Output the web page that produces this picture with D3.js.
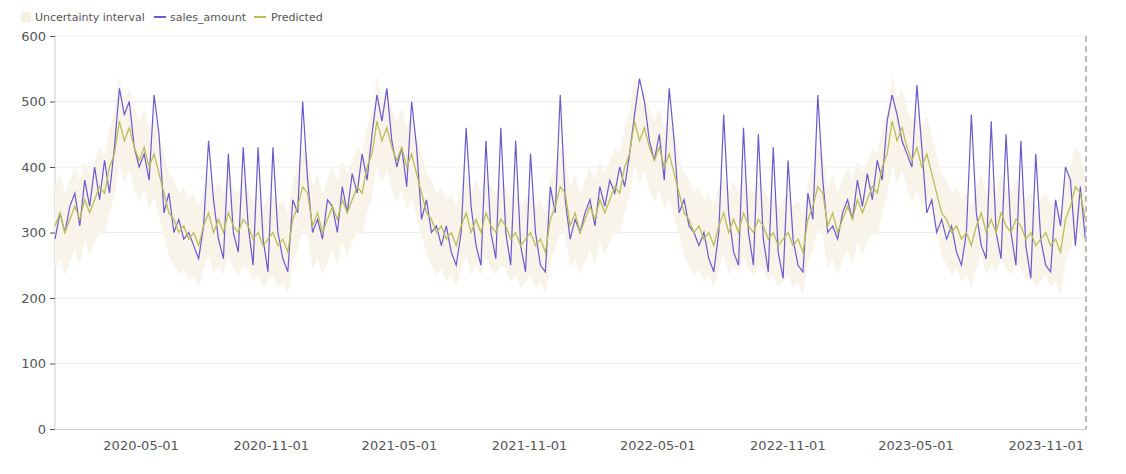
<!DOCTYPE html>
<html><head><meta charset="utf-8">
<script src="https://cdn.jsdelivr.net/npm/d3@7/dist/d3.min.js"></script>
<style>body{margin:0;background:#fff;font-family:"DejaVu Sans",sans-serif}</style>
</head><body><svg id="c" width="1126" height="474"></svg>
<script>
const startDate = "2020-01-01";
const xTicks = ["2020-05-01","2020-11-01","2021-05-01","2021-11-01","2022-05-01","2022-11-01","2023-05-01","2023-11-01"];
const yTicks = [0,100,200,300,400,500,600];
const actual2020 = [290,330,300,340,360,310,380,340,400,350,410,360,430,520,480,500,430,400,420,380,510,450,330,360,300,320,290,300,280,260,310,440,350,290,260,420,300,270,430,310,250,430,290,240,430,300,260,240,350,330,500,380];
const actual2021 = [300,320,290,350,340,300,370,330,390,360,420,380,450,510,470,520,440,400,430,370,500,430,320,350,300,310,280,310,270,250,300,460,340,280,250,440,300,260,460,300,250,440,280,240,420,300,250,240,370,330,510,350];
const actual2022 = [290,320,300,330,350,310,370,340,380,360,400,370,420,480,535,500,440,410,450,380,520,440,330,350,310,300,280,300,260,240,300,480,330,270,250,460,300,250,450,290,240,430,270,230,410,290,250,240,360,320,510,380];
const actual2023 = [300,310,290,330,350,320,380,340,390,350,410,380,470,510,480,440,420,400,525,430,330,350,300,320,290,310,270,250,300,480,330,280,260,470,300,260,450,300,250,440,280,230,420,290,250,240,350,310,400,380,280,370];
const actual2024 = [290];
const predYear = [310,330,300,320,340,320,350,330,350,370,360,400,420,470,440,460,430,410,430,400,420,390,360,330,320,300,310,290,300,280,310,330,300,320,300,330,310,300,320,310,290,300,280,290,300,280,290,270,320,340,370,360];
const lowerYear = [245,260,235,255,275,250,285,265,285,300,295,330,355,405,375,395,365,345,365,335,355,325,295,265,250,235,245,225,235,215,245,265,235,250,235,265,245,235,250,245,225,235,215,225,235,215,225,205,255,275,305,295];
const upperYear = [370,390,360,380,400,380,410,390,410,430,420,460,485,540,505,520,490,470,490,460,480,450,420,390,380,360,370,350,360,340,370,390,360,380,360,390,370,360,380,370,350,360,340,350,360,340,350,330,380,400,430,420];
const pred2024 = [320], lower2024 = [255], upper2024 = [380];

const actual = [].concat(actual2020,actual2021,actual2022,actual2023,actual2024);
const pred = [].concat(predYear,predYear,predYear,predYear,pred2024);
const lower = [].concat(lowerYear,lowerYear,lowerYear,lowerYear,lower2024);
const upper = [].concat(upperYear,upperYear,upperYear,upperYear,upper2024);
const parse = d3.utcParse("%Y-%m-%d");
const t0 = parse(startDate);
const dates = actual.map((_,i)=>d3.utcDay.offset(t0,i*7));
const data = dates.map((d,i)=>({d,a:actual[i],p:pred[i],lo:lower[i],hi:upper[i]}));

const svg = d3.select("#c");
const L=55,R=1086,T=36,B=429;
const x = d3.scaleUtc().domain([t0,d3.utcDay.offset(dates[dates.length-1],1)]).range([L,R]);
const y = d3.scaleLinear().domain([0,600]).range([B,T]);

svg.append("g").selectAll("line").data(yTicks.slice(1)).join("line")
 .attr("x1",L).attr("x2",R).attr("y1",d=>y(d)).attr("y2",d=>y(d)).attr("stroke","#ededed");
const ya = svg.append("g").attr("transform",`translate(${L},0)`).call(d3.axisLeft(y).tickValues(yTicks).tickSize(5).tickPadding(4));
ya.select(".domain").attr("stroke","#ccc").attr("d",`M0,${T}V${B}`);
ya.selectAll(".tick line").attr("stroke","#555");
ya.selectAll("text").attr("fill","#555").style("font-size","13px").style("font-family","DejaVu Sans");
const xa = svg.append("g").attr("transform",`translate(0,${B})`).call(d3.axisBottom(x).tickValues(xTicks.map(parse)).tickFormat(d3.utcFormat("%Y-%m-%d")).tickSize(0).tickPadding(12));
xa.select(".domain").attr("stroke","#ccc");
xa.selectAll("text").attr("fill","#555").style("font-size","13px").style("font-family","DejaVu Sans");

svg.append("path").datum(data).attr("fill","#f8f4ea")
 .attr("d",d3.area().x(d=>x(d.d)).y0(d=>y(d.lo)).y1(d=>y(d.hi)));
svg.append("path").datum(data).attr("fill","none").attr("stroke","#6a5acd").attr("stroke-width",1.2)
 .attr("d",d3.line().x(d=>x(d.d)).y(d=>y(d.a)));
svg.append("path").datum(data).attr("fill","none").attr("stroke","#bdbd58").attr("stroke-width",1.3)
 .attr("d",d3.line().x(d=>x(d.d)).y(d=>y(d.p)));
svg.append("line").attr("x1",R).attr("x2",R).attr("y1",T).attr("y2",B).attr("stroke","#bbb").attr("stroke-width",2).attr("stroke-dasharray","6,4");

const lg = svg.append("g").style("font-family","DejaVu Sans").style("font-size","11px").attr("fill","#555");
lg.append("rect").attr("x",21).attr("y",12).attr("width",10).attr("height",10).attr("fill","#f6f1e3");
lg.append("text").attr("x",35).attr("y",21).text("Uncertainty interval");
lg.append("line").attr("x1",154).attr("x2",166).attr("y1",17).attr("y2",17).attr("stroke","#6a5acd").attr("stroke-width",2);
lg.append("text").attr("x",170).attr("y",21).text("sales_amount");
lg.append("line").attr("x1",254).attr("x2",266).attr("y1",17).attr("y2",17).attr("stroke","#bdbd58").attr("stroke-width",2);
lg.append("text").attr("x",271).attr("y",21).text("Predicted");
</script></body></html>
